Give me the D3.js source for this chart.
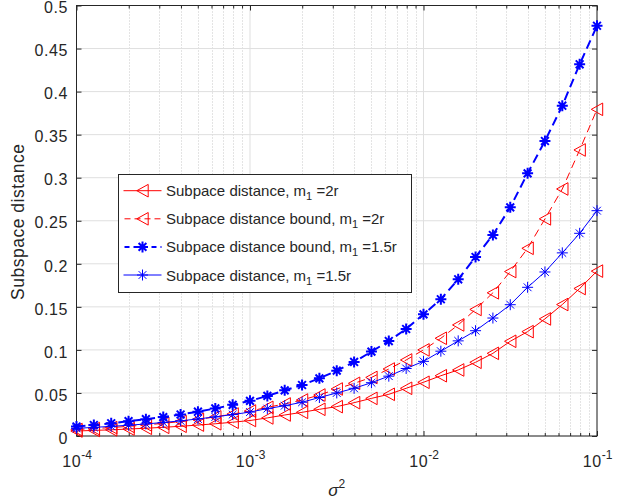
<!DOCTYPE html>
<html><head><meta charset="utf-8">
<script src="https://cdn.jsdelivr.net/npm/d3@7"></script>
<style>
body{margin:0;background:#fff}
text{font-family:"Liberation Sans",Arial,Helvetica,sans-serif;fill:#262626}
</style>
</head><body>
<svg id="chart" width="626" height="503"></svg>
<script>
// sigma^2 exponents (x = 10^e)
const sigmaExponents = [-4,-3.9,-3.8,-3.7,-3.6,-3.5,-3.4,-3.3,-3.2,-3.1,-3,
  -2.9,-2.8,-2.7,-2.6,-2.5,-2.4,-2.3,-2.2,-2.1,-2,
  -1.9,-1.8,-1.7,-1.6,-1.5,-1.4,-1.3,-1.2,-1.1,-1];

const distM2 = [0.0058,0.0065,0.0072,0.0081,0.0090,0.0101,0.0113,0.0127,0.0142,0.0160,0.0180,
  0.0210,0.0244,0.0275,0.0310,0.0341,0.0387,0.0437,0.0484,0.0554,0.0624,
  0.0700,0.0767,0.0856,0.0960,0.1100,0.1212,0.1360,0.1527,0.1713,0.1915];
const boundM2 = [0.0075,0.0086,0.0098,0.0112,0.0129,0.0147,0.0168,0.0193,0.0222,0.0255,0.0290,
  0.0333,0.0372,0.0418,0.0476,0.0546,0.0612,0.0680,0.0778,0.0883,0.1000,
  0.1135,0.1290,0.1470,0.1663,0.1910,0.2180,0.2522,0.2869,0.3322,0.3794];
const boundM15 = [0.0110,0.0128,0.0148,0.0172,0.0195,0.0220,0.0250,0.0282,0.0320,0.0362,0.0408,
  0.0466,0.0530,0.0592,0.0670,0.0759,0.0860,0.0980,0.1103,0.1243,0.1413,
  0.1588,0.1820,0.2079,0.2334,0.2656,0.3051,0.3426,0.3836,0.4317,0.4765];
const distM15 = [0.0089,0.0100,0.0112,0.0125,0.0140,0.0157,0.0176,0.0198,0.0222,0.0249,0.0278,
  0.0318,0.0352,0.0392,0.0447,0.0500,0.0554,0.0619,0.0695,0.0784,0.0867,
  0.0985,0.1105,0.1223,0.1370,0.1525,0.1727,0.1905,0.2127,0.2354,0.2617];

const seriesNames = ["Subpace distance, m|1| =2r","Subpace distance bound, m|1| =2r",
  "Subpace distance bound, m|1| =1.5r","Subpace distance, m|1| =1.5r"];
const xTickExponents = [-4,-3,-2,-1];
const yTickValues = [0,0.05,0.1,0.15,0.2,0.25,0.3,0.35,0.4,0.45,0.5];
const yLabel = "Subspace distance";

const L = 76.5, R = 597, T = 5.5, B = 436;
const svg = d3.select("#chart");
svg.append("rect").attr("width",626).attr("height",503).attr("fill","#fff");

const x = d3.scaleLog().domain([1e-4,1e-1]).range([L,R]);
const y = d3.scaleLinear().domain([0,0.5]).range([B,T]);

const xs = sigmaExponents.map(e => Math.pow(10,e));
const minors = [];
[-4,-3,-2].forEach(e => { for (let m=2;m<=9;m++) minors.push(m*Math.pow(10,e)); });
const majorsX = xTickExponents.map(e => Math.pow(10,e));

// grid
const grid = svg.append("g");
grid.selectAll(".gm").data(minors).enter().append("line")
  .attr("x1",d=>Math.round(x(d))+0.5).attr("x2",d=>Math.round(x(d))+0.5).attr("y1",T).attr("y2",B)
  .attr("stroke","#c8c8c8").attr("stroke-width",1).attr("stroke-dasharray","1,2");
grid.selectAll(".gx").data(majorsX).enter().append("line")
  .attr("x1",d=>x(d)).attr("x2",d=>x(d)).attr("y1",T).attr("y2",B)
  .attr("stroke","#dfdfdf").attr("stroke-width",1);
grid.selectAll(".gy").data(yTickValues).enter().append("line")
  .attr("x1",L).attr("x2",R).attr("y1",d=>y(d)).attr("y2",d=>y(d))
  .attr("stroke","#dfdfdf").attr("stroke-width",1);

// axes
const axCol = "#262626";
function styleAxis(g){ g.select(".domain").remove(); g.selectAll(".tick line").attr("stroke",axCol); }
const xAxis = svg.append("g").attr("transform",`translate(0,${B})`)
  .call(d3.axisBottom(x).tickValues(majorsX).tickSizeInner(-5).tickSizeOuter(0).tickFormat(()=>""))
  .call(styleAxis);
svg.append("g").attr("transform",`translate(0,${B})`)
  .call(d3.axisBottom(x).tickValues(minors).tickSizeInner(-3).tickSizeOuter(0).tickFormat(()=>""))
  .call(styleAxis);
svg.append("g").attr("transform",`translate(0,${T})`)
  .call(d3.axisTop(x).tickValues(majorsX).tickSizeInner(-5).tickSizeOuter(0).tickFormat(()=>""))
  .call(styleAxis);
svg.append("g").attr("transform",`translate(0,${T})`)
  .call(d3.axisTop(x).tickValues(minors).tickSizeInner(-3).tickSizeOuter(0).tickFormat(()=>""))
  .call(styleAxis);
const yAxis = svg.append("g").attr("transform",`translate(${L},0)`)
  .call(d3.axisLeft(y).tickValues(yTickValues).tickSizeInner(-5).tickSizeOuter(0).tickPadding(8.5)
    .tickFormat(d=>d3.format("~g")(d)))
  .call(styleAxis);
yAxis.selectAll(".tick text").attr("font-size",16).attr("dy","0.45em")
  .style("font-family","'Liberation Sans',Arial,sans-serif").attr("fill",axCol).attr("letter-spacing","0.6");
svg.append("g").attr("transform",`translate(${R},0)`)
  .call(d3.axisRight(y).tickValues(yTickValues).tickSizeInner(-5).tickSizeOuter(0).tickFormat(()=>""))
  .call(styleAxis);

// x tick labels 10^e
xAxis.selectAll(".tick").each(function(d){
  const e = Math.round(Math.log10(d));
  const t = d3.select(this).append("text").attr("y",31).attr("text-anchor","middle")
    .attr("font-size",16).attr("fill",axCol).style("font-family","'Liberation Sans',Arial,sans-serif");
  t.append("tspan").text("10").attr("letter-spacing","0.6");
  t.append("tspan").text(String(e)).attr("font-size",12).attr("dy",-8.5);
});

// box
svg.append("rect").attr("x",L).attr("y",T).attr("width",R-L).attr("height",B-T)
  .attr("fill","none").attr("stroke",axCol).attr("stroke-width",1);

// labels
svg.append("text").attr("transform",`translate(23.5,${(T+B)/2+1}) rotate(-90)`)
  .attr("text-anchor","middle").attr("font-size",17.5).attr("letter-spacing","0.5").text(yLabel);
const xl = svg.append("text").attr("x",(L+R)/2).attr("y",496).attr("text-anchor","middle").attr("font-size",17);
xl.append("tspan").text("σ").attr("font-style","italic");
xl.append("tspan").text("2").attr("font-size",12).attr("dy",-8);

// series
const tri = "M-5.7,0L5.7,-6.3L5.7,6.3Z";
const star = r => { const a=r*0.707; return `M${-r},0H${r}M0,${-r}V${r}M${-a},${-a}L${a},${a}M${-a},${a}L${a},${-a}`; };
const series = [
  {vals: distM2, color:"#ff0000", dash:null, lw:1, marker:tri, mw:1, fill:"none"},
  {vals: boundM2, color:"#ff0000", dash:"8,5", lw:1, marker:tri, mw:1, fill:"none"},
  {vals: boundM15, color:"#0000ff", dash:"9,5", lw:2, marker:star(5.5), mw:2, fill:"none"},
  {vals: distM15, color:"#0000ff", dash:null, lw:1, marker:star(5.5), mw:1, fill:"none"}
];
const line = d3.line().x(d=>x(d[0])).y(d=>y(d[1]));
const plot = svg.append("g");
series.forEach(s=>{
  const pts = xs.map((xv,i)=>[xv,s.vals[i]]);
  plot.append("path").attr("d",line(pts)).attr("fill","none").attr("stroke",s.color)
    .attr("stroke-width",s.lw).attr("stroke-dasharray",s.dash);
  plot.selectAll(null).data(pts).enter().append("path")
    .attr("transform",d=>`translate(${x(d[0])},${y(d[1])})`)
    .attr("d",s.marker).attr("fill",s.fill).attr("stroke",s.color).attr("stroke-width",s.mw);
});

// legend
const lg = svg.append("g");
lg.append("rect").attr("x",118.5).attr("y",174.5).attr("width",293).attr("height",118)
  .attr("fill","#fff").attr("stroke",axCol).attr("stroke-width",1);
series.forEach((s,i)=>{
  const cy = 190.7 + i*28.1;
  lg.append("line").attr("x1",123.5).attr("x2",161.5).attr("y1",cy).attr("y2",cy)
    .attr("stroke",s.color).attr("stroke-width",s.lw).attr("stroke-dasharray",s.dash ? (s.lw>1?"5,4":"6,4") : null)
    .attr("stroke-dashoffset", s.dash ? -1 : 0);
  lg.append("path").attr("transform",`translate(142.5,${cy})`).attr("d",s.marker)
    .attr("fill","none").attr("stroke",s.color).attr("stroke-width",s.mw);
  const parts = seriesNames[i].split("|");
  const t = lg.append("text").attr("x",166).attr("y",cy+5.5).attr("font-size",15).attr("fill","#000");
  t.append("tspan").text(parts[0]);
  t.append("tspan").text(parts[1]).attr("font-size",11).attr("dy",4);
  t.append("tspan").text(parts[2]).attr("dy",-4);
});
</script>
</body></html>
